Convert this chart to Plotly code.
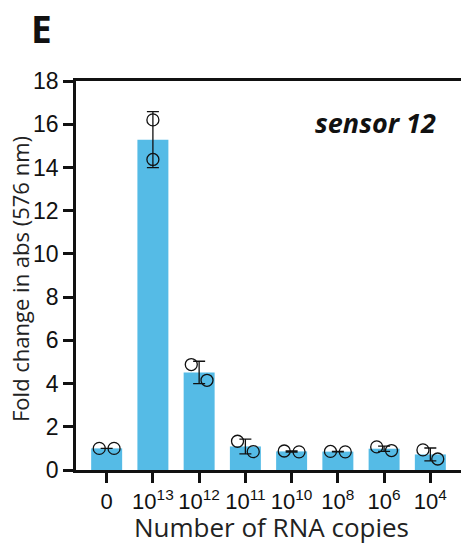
import numpy as np
import plotly.graph_objects as go

# RNA copy number for each condition (tick labels)
categories = ["0", "10<sup>13</sup>", "10<sup>12</sup>", "10<sup>11</sup>",
              "10<sup>10</sup>", "10<sup>8</sup>", "10<sup>6</sup>", "10<sup>4</sup>"]

# Fold change in absorbance at 576 nm, two replicates per condition
rep1 = [1.00, 16.20, 4.88, 1.33, 0.88, 0.86, 1.07, 0.93]
rep2 = [1.00, 14.37, 4.15, 0.85, 0.84, 0.84, 0.90, 0.51]

reps = np.array([rep1, rep2])
mean = reps.mean(axis=0)
sd = reps.std(axis=0, ddof=1)

x_idx = np.arange(len(categories))

# horizontal spread of the replicate dots within each bar
spread = np.array([0.16, 0.0, 0.17, 0.17, 0.16, 0.16, 0.16, 0.16])

BAR_COLOR = "#55BBE6"
W, H = 461, 549
L, R, T, B = 76, 0, 81, 79

fig = go.Figure()

fig.add_trace(go.Bar(
    x=x_idx, y=mean, width=0.67,
    marker=dict(color=BAR_COLOR, line=dict(width=0)),
    error_y=dict(type="data", array=sd, visible=True,
                 color="#111111", thickness=1.3, width=6),
    showlegend=False, hoverinfo="skip",
))

pts_x = np.concatenate([x_idx - spread, x_idx + spread])
pts_y = np.concatenate([reps[0], reps[1]])
fig.add_trace(go.Scatter(
    x=pts_x, y=pts_y, mode="markers",
    marker=dict(symbol="circle-open", size=12, color="#111111",
                line=dict(width=1.3, color="#111111")),
    showlegend=False, hoverinfo="skip",
))

tick_family = "Liberation Sans, Arial, sans-serif"
title_font = "Open Sans, Noto Sans, sans-serif"

fig.update_xaxes(
    range=[-0.663, 7.663],
    tickmode="array", tickvals=x_idx, ticktext=categories,
    showline=True, linecolor="#111111", linewidth=2.5, mirror=True,
    ticks="outside", ticklen=10, tickwidth=2.5, tickcolor="#111111",
    tickfont=dict(family=tick_family, size=22, color="#111111"),
    showgrid=False, zeroline=False,
)
fig.update_yaxes(
    range=[0, 18], dtick=2,
    showline=True, linecolor="#111111", linewidth=2.5,
    ticks="outside", ticklen=10, tickwidth=2.5, tickcolor="#111111",
    tickfont=dict(family=tick_family, size=23, color="#111111"),
    showgrid=False, zeroline=False,
)

pw = W - L - R
ph = H - T - B

fig.add_annotation(
    text="Fold change in abs (576 nm)", textangle=-90,
    xref="paper", yref="paper",
    x=(20 - L) / pw, y=(470 - 279) / ph,
    xanchor="center", yanchor="middle", showarrow=False,
    font=dict(family=title_font, size=22, color="#222222"),
)
fig.add_annotation(
    text="Number of RNA copies",
    xref="paper", yref="paper",
    x=(271 - L) / pw, y=(470 - 527) / ph,
    xanchor="center", yanchor="middle", showarrow=False,
    font=dict(family=title_font, size=26, color="#222222"),
)
fig.add_annotation(
    text="<b><i>sensor 12</i></b>",
    xref="paper", yref="paper",
    x=(438 - L) / pw, y=(470 - 123) / ph,
    xanchor="right", yanchor="middle", showarrow=False,
    font=dict(family=title_font, size=27, color="#111111"),
)
fig.add_annotation(
    text="<b>E</b>",
    xref="paper", yref="paper",
    x=(29 - L) / pw, y=(470 - 28) / ph,
    xanchor="left", yanchor="middle", showarrow=False,
    font=dict(family=title_font, size=37, color="#111111"),
)

fig.update_layout(
    width=W, height=H,
    margin=dict(l=L, r=R, t=T, b=B, autoexpand=False),
    paper_bgcolor="white", plot_bgcolor="white",
    bargap=0.33,
)

fig.write_html("out.html")
